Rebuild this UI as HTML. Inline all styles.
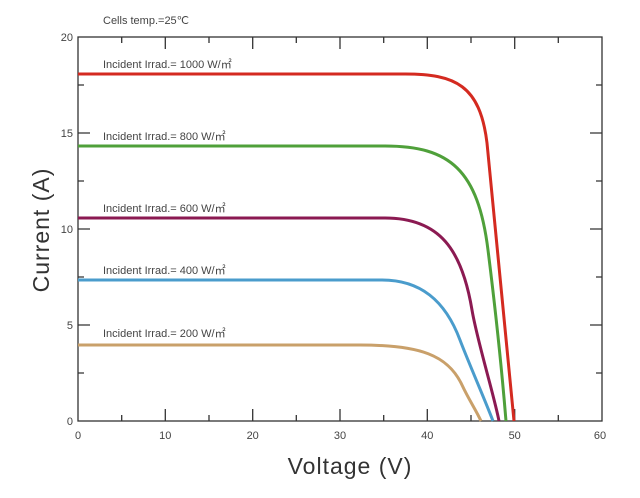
<!DOCTYPE html>
<html><head><style>body{margin:0;background:#fff}svg{display:block}</style></head><body>
<svg width="640" height="498" viewBox="0 0 640 498" xmlns="http://www.w3.org/2000/svg" font-family="Liberation Sans, sans-serif">
<rect width="640" height="498" fill="#fff"/>
<g stroke="#333" stroke-width="1.3" fill="none">
<rect x="78" y="37" width="524" height="384"/>
<path d="M165.3 421v-12M252.7 421v-12M340 421v-12M427.3 421v-12M514.7 421v-12M121.7 421v-6M209 421v-6M296.3 421v-6M383.7 421v-6M471 421v-6M558.3 421v-6
M165.3 37v12M252.7 37v12M340 37v12M427.3 37v12M514.7 37v12M121.7 37v6M209 37v6M296.3 37v6M383.7 37v6M471 37v6M558.3 37v6
M78 133h12M78 229h12M78 325h12M78 85h6M78 181h6M78 277h6M78 373h6
M602 133h-12M602 229h-12M602 325h-12M602 85h-6M602 181h-6M602 277h-6M602 373h-6"/>
</g>
<g font-size="11" fill="#444">
<text x="73" y="41" text-anchor="end">20</text>
<text x="73" y="137" text-anchor="end">15</text>
<text x="73" y="233" text-anchor="end">10</text>
<text x="73" y="329" text-anchor="end">5</text>
<text x="73" y="425" text-anchor="end">0</text>
<g text-anchor="middle">
<text x="78" y="439">0</text><text x="165.3" y="439">10</text><text x="252.7" y="439">20</text><text x="340" y="439">30</text><text x="427.3" y="439">40</text><text x="514.7" y="439">50</text><text x="600" y="439">60</text>
</g>
<text x="103" y="24">Cells temp.=25℃</text>
<text x="103" y="68">Incident Irrad.= 1000 W/㎡</text>
<text x="103" y="140">Incident Irrad.= 800 W/㎡</text>
<text x="103" y="212">Incident Irrad.= 600 W/㎡</text>
<text x="103" y="274">Incident Irrad.= 400 W/㎡</text>
<text x="103" y="337">Incident Irrad.= 200 W/㎡</text>
</g>
<text x="350" y="474" text-anchor="middle" font-size="23" fill="#333" letter-spacing="1">Voltage (V)</text>
<text transform="translate(49,230) rotate(-90)" text-anchor="middle" font-size="23" fill="#333" letter-spacing="1">Current (A)</text>
<g fill="none" stroke-width="3">
<path d="M78 74H405C455 74 480 85 487 143L514 421" stroke="#d42a20"/>
<path d="M78 146H385C450 146 478 170 488 250C493 290 501 360 506 421" stroke="#4fa03a"/>
<path d="M78 218H385C440 218 462 250 472 310C477 340 494 395 499 421" stroke="#8b1a52"/>
<path d="M78 280H382C420 280 445 300 460 340C467.5 360 485 400 493 421" stroke="#4a9ccc"/>
<path d="M78 345H360C420 345 448 355 462 385C469 400 476 410 481 421" stroke="#c9a06a"/>
</g>
</svg>
</body></html>
